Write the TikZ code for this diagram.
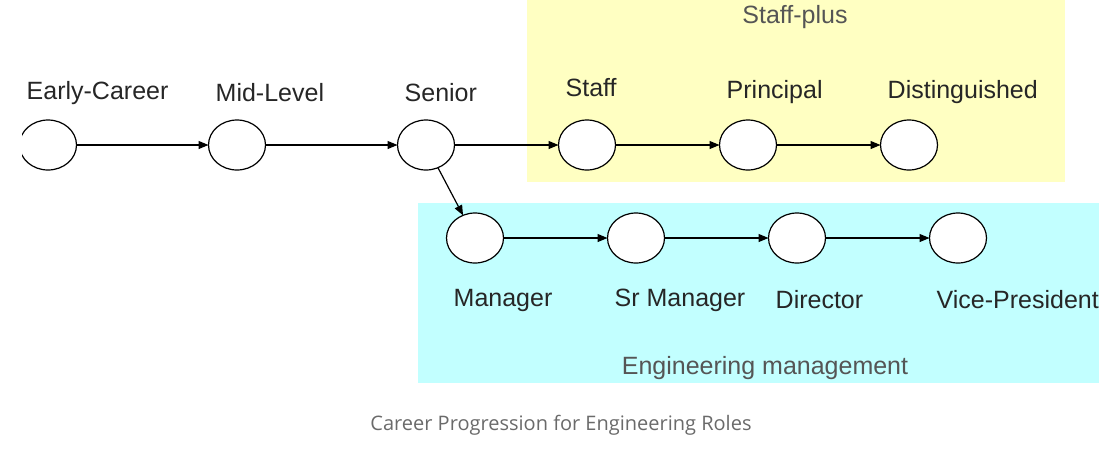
\documentclass[tikz,border=0pt]{standalone}
\usepackage{fontspec}
\setmainfont{Liberation Sans}
\newfontfamily\capfont{Open Sans}
\usetikzlibrary{positioning,arrows.meta,shapes.geometric}

\definecolor{staffbg}{HTML}{FFFFC2}
\definecolor{mgmtbg}{HTML}{C2FFFF}
\definecolor{grouptxt}{HTML}{555555}
\definecolor{captxt}{HTML}{6A6A6A}

\begin{document}
\begin{tikzpicture}[x=1pt, y=-1pt, every node/.style={font=\fontsize{25}{30}\selectfont}]
\tikzset{
  role/.style={draw, ellipse, line width=1.2pt, fill=white, minimum width=57pt, minimum height=50pt, inner sep=0pt, outer sep=0pt},
  lbl/.style={anchor=west, inner sep=0pt, text=black!85},
  group/.style={inner sep=0pt, text=grouptxt},
  arrow/.style={-{Triangle[length=10pt,width=8pt]}, line width=1.2pt}
}
\useasboundingbox (0,0) rectangle (1099,456);
\clip (22,0) rectangle (1099,456);

% Groups
\fill[staffbg] (527,0) rectangle (1065,182);
\fill[mgmtbg] (418,203) rectangle (1099,383);
\node[group] (staffplus) at (795,17) {Staff-plus};
\node[group] (engmgmt) at (765,368) {Engineering management};

% Nodes
\node[role] (early) at (48,145) {};
\node[role, right=132pt of early] (mid) {};
\node[role, right=132pt of mid] (senior) {};
\node[role, right=104pt of senior] (staff) {};
\node[role, right=104pt of staff] (principal) {};
\node[role, right=104pt of principal] (disting) {};
\node[role] (mgr) at (475,238) {};
\node[role, right=104pt of mgr] (srmgr) {};
\node[role, right=104pt of srmgr] (director) {};
\node[role, right=104pt of director] (vp) {};

% Labels
\node[lbl] at ([xshift=7pt, yshift=52pt]early.west) {Early-Career};
\node[lbl] at ([xshift=7pt, yshift=52pt]mid.west) {Mid-Level};
\node[lbl] at ([xshift=7pt, yshift=52pt]senior.west) {Senior};
\node[lbl] at ([xshift=7pt, yshift=57pt]staff.west) {Staff};
\node[lbl] at ([xshift=7pt, yshift=53pt]principal.west) {Principal};
\node[lbl] at ([xshift=7pt, yshift=53pt]disting.west) {Distinguished};
\node[lbl] at ([xshift=7pt, yshift=-62pt]mgr.west) {Manager};
\node[lbl] at ([xshift=7pt, yshift=-62pt]srmgr.west) {Sr Manager};
\node[lbl] at ([xshift=7pt, yshift=-62pt]director.west) {Director};
\node[lbl] at ([xshift=7pt, yshift=-62pt]vp.west) {Vice-President};

% Arrows
\draw[arrow] (early) -- (mid);
\draw[arrow] (mid) -- (senior);
\draw[arrow] (senior) -- (staff);
\draw[arrow] (staff) -- (principal);
\draw[arrow] (principal) -- (disting);
\draw[arrow] (senior) -- (mgr);
\draw[arrow] (mgr) -- (srmgr);
\draw[arrow] (srmgr) -- (director);
\draw[arrow] (director) -- (vp);

% Caption
\node[text=captxt, font=\capfont\fontsize{20}{24}\selectfont] (caption) at (561,425) {Career Progression for Engineering Roles};
\end{tikzpicture}
\end{document}
